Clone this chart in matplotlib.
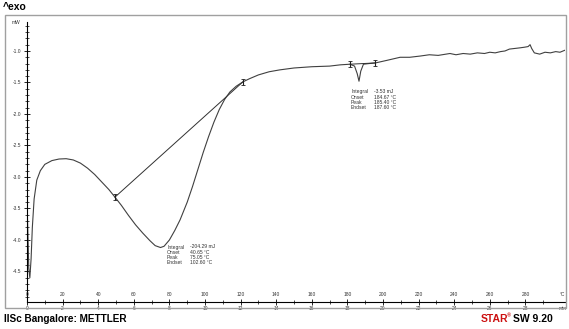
import numpy as np
import matplotlib
matplotlib.use('Agg')
from matplotlib import pyplot as plt
from matplotlib.patches import Rectangle

plt.rcParams['font.family'] = ['Liberation Sans', 'DejaVu Sans']

# DSC curve: temperature (°C) and heat flow (mW)
temp = [0.0, 0.5, 1.0, 1.6, 2.3, 3.0, 4.0, 5.5, 7.5, 10, 14, 18, 22, 26, 30, 34,
        38, 42, 46, 49.4, 53, 57, 61, 65, 69, 72, 75, 77, 80, 83, 86, 90, 93,
        96, 99, 102, 105, 108, 111, 114, 117.5, 121.3, 125, 130, 136, 142, 150,
        160, 170, 176, 181.5, 184, 185.5, 186.5, 187.5, 189, 192, 195.7, 202,
        209.6, 215, 221, 226, 231, 237.6, 241, 245, 249, 253, 257, 260, 263,
        266, 268.5, 271, 274, 277, 279.5, 281.5, 282.6, 283.5, 285, 288, 291,
        294, 297, 299.4, 302]
heat = [-3.40, -3.90, -4.45, -4.60, -4.30, -3.80, -3.35, -3.05, -2.90, -2.80,
        -2.74, -2.715, -2.71, -2.73, -2.78, -2.86, -2.96, -3.08, -3.20, -3.32,
        -3.45, -3.61, -3.76, -3.89, -4.01, -4.09, -4.12, -4.10, -4.00, -3.85,
        -3.68, -3.40, -3.15, -2.88, -2.61, -2.36, -2.13, -1.93, -1.77, -1.65,
        -1.56, -1.49, -1.44, -1.38, -1.33, -1.30, -1.27, -1.25, -1.24, -1.22,
        -1.21, -1.24, -1.36, -1.48, -1.32, -1.21, -1.20, -1.19, -1.15, -1.10,
        -1.10, -1.08, -1.06, -1.07, -1.04, -1.06, -1.04, -1.05, -1.03, -1.04,
        -1.02, -1.03, -1.01, -1.00, -0.97, -0.96, -0.95, -0.94, -0.93, -0.90,
        -0.96, -1.03, -1.05, -1.02, -1.03, -1.01, -1.02, -0.99]

# evaluation baselines (onset/endset points)
base1_t = [49.4, 121.3]
base1_h = [-3.32, -1.49]
base2_t = [181.5, 195.7]
base2_h = [-1.21, -1.19]

ytick_vals = [-1.0, -1.5, -2.0, -2.5, -3.0, -3.5, -4.0, -4.5]
xtick_temp = [0, 20, 40, 60, 80, 100, 120, 140, 160, 180, 200, 220, 240, 260, 280]
xtick_min = [0, 2, 4, 6, 8, 10, 12, 14, 16, 18, 20, 22, 24, 26, 28]

res1 = [('Integral', '-204.29 mJ'), ('Onset', '40.65 \u00b0C'),
        ('Peak', '75.05 \u00b0C'), ('Endset', '102.60 \u00b0C')]
res2 = [('Integral', '-3.53 mJ'), ('Onset', '184.67 \u00b0C'),
        ('Peak', '185.40 \u00b0C'), ('Endset', '187.60 \u00b0C')]

W, H = 569, 329
fig = plt.figure(figsize=(W / 100, H / 100), dpi=100)

def px(x, y):
    return x / W, 1 - y / H

# outer frame
fig.patches.append(Rectangle(px(5, 308), 561 / W, 293 / H, transform=fig.transFigure,
                             fill=False, ec='#a0a0a0', lw=1.0))

ax = fig.add_axes([27 / W, 1 - 301.7 / H, 537.6 / W, 279.7 / H])
ax.set_xlim(0, 302)
ax.set_ylim(-4.98, -0.54)
ax.patch.set_alpha(0)
for s in ['top', 'right']:
    ax.spines[s].set_visible(False)
ax.spines['left'].set_linewidth(0.8)
ax.spines['bottom'].set_linewidth(0.8)

ax.plot(temp, heat, color='#404040', lw=0.8)
ax.plot(base1_t, base1_h, color='#303030', lw=0.7)
ax.plot(base2_t, base2_h, color='#303030', lw=0.7)
ax.errorbar(base1_t + base2_t, base1_h + base2_h, yerr=0.05, fmt='none',
            ecolor='#202020', elinewidth=0.8, capsize=1.2, capthick=0.6)

ax.set_yticks(ytick_vals)
ax.set_yticks(np.arange(-4.9, -0.55, 0.1), minor=True)
ax.set_yticklabels(['%.1f' % v for v in ytick_vals], fontsize=3.5, color='#333333')
ax.set_xticks(xtick_temp)
ax.set_xticks(np.arange(10, 300, 20), minor=True)
ax.set_xticklabels([])
ax.tick_params(axis='both', which='major', direction='inout', length=4, width=0.6, pad=2)
ax.tick_params(axis='both', which='minor', direction='inout', length=2.5, width=0.5)

for t, m in zip(xtick_temp, xtick_min):
    ax.annotate(str(t), (t, 0), xycoords=('data', 'axes fraction'), xytext=(0, 3.3),
                textcoords='offset points', ha='center', va='bottom', fontsize=3.5,
                color='#333333')
    ax.annotate(str(m), (t, 0), xycoords=('data', 'axes fraction'), xytext=(0, -3),
                textcoords='offset points', ha='center', va='top', fontsize=3.5,
                color='#333333')
ax.annotate('\u00b0C', (301, 0), xycoords=('data', 'axes fraction'), xytext=(0, 3.3),
            textcoords='offset points', ha='center', va='bottom', fontsize=3.5, color='#333333')
ax.annotate('min', (301, 0), xycoords=('data', 'axes fraction'), xytext=(0, -3),
            textcoords='offset points', ha='center', va='top', fontsize=3.5, color='#333333')

fig.text(*px(16, 23), 'mW', fontsize=3.5, ha='center', va='center', color='#333333')

for i, (k, v) in enumerate(res1):
    fig.text(*px(167, 247 + 5.2 * i), k, fontsize=3.6, va='center', color='#333333')
    fig.text(*px(190, 247 + 5.2 * i), v, fontsize=3.6, va='center', color='#333333')
for i, (k, v) in enumerate(res2):
    fig.text(*px(351, 92 + 5.2 * i), k, fontsize=3.6, va='center', color='#333333')
    fig.text(*px(374, 92 + 5.2 * i), v, fontsize=3.6, va='center', color='#333333')

fig.text(*px(3, 7), '^exo', fontsize=7.5, fontweight='bold', va='center')
fig.text(*px(4, 319), 'IISc Bangalore: METTLER', fontsize=7.2, fontweight='bold', va='center')
t1 = fig.text(*px(481, 319), 'STAR', fontsize=7.5, fontweight='bold', va='center', color='#cc1010')
fig.text(*px(507, 316), '\u00ae', fontsize=4, fontweight='bold', va='center', color='#cc1010')
fig.text(*px(513, 319), 'SW 9.20', fontsize=7.5, fontweight='bold', va='center')

fig.savefig('out.png', dpi=100)
